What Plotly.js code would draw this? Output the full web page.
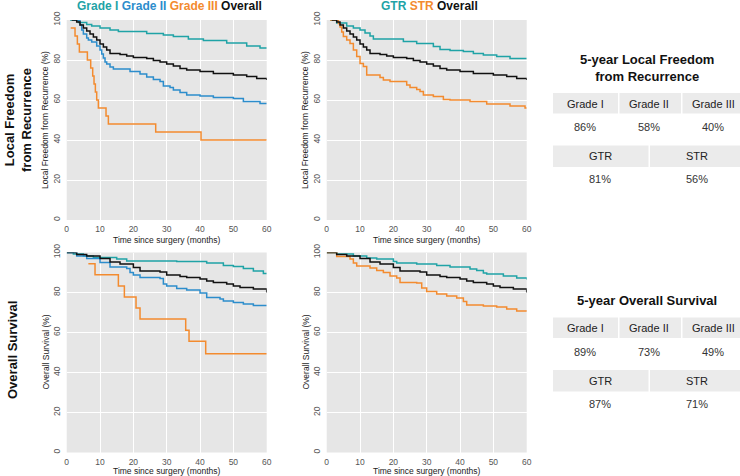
<!DOCTYPE html>
<html>
<head>
<meta charset="utf-8">
<script src="https://cdn.plot.ly/plotly-3.0.1.min.js"></script>
<style>html,body{margin:0;padding:0;background:#fff;}#chart{width:740px;height:476px;}</style>
</head>
<body>
<div id="chart"></div>
<script>
// ---- Data ----
// Local freedom from recurrence, by grade
const lfG1T = [1, 3.5, 6, 7.5, 10, 13, 15.5, 24, 29, 32, 36.5, 41, 48, 54, 58, 60];
const lfG1S = [100, 98.8, 97.8, 97, 96, 95, 94.3, 93.3, 92.5, 91.7, 90.5, 89.7, 88.5, 87, 86, 86];
const lfG2T = [2, 4, 4.5, 5, 6, 6.5, 7.5, 9, 10, 10.5, 11, 11.5, 12, 13, 14, 19, 22, 24, 26, 28, 29, 31, 32, 34, 36, 40, 44, 50, 53, 58, 60];
const lfG2S = [100, 97.5, 95, 93, 91, 90, 89, 87, 85, 83, 81, 79, 78, 76.5, 75.5, 74.2, 73, 71.5, 70.3, 69.2, 67, 66.3, 65, 63.7, 62.5, 62, 61.3, 60.8, 59.2, 58.3, 58.3];
const lfG3T = [1.2, 2.5, 3.2, 3.8, 6.2, 7.2, 7.8, 8.2, 8.6, 9, 9.5, 11.8, 12.5, 26.7, 40.3, 60];
const lfG3S = [96, 92, 88, 84, 80, 76, 72, 68, 64, 60, 56, 52, 48, 44, 40, 40];
const lfAllT = [1.5, 3, 4, 5, 6, 7, 8, 9, 10, 11, 12, 13, 16, 18, 20, 24, 26, 28, 30, 32, 34, 36, 40, 44, 50, 54, 57, 60];
const lfAllS = [100, 99, 97.5, 96, 94.5, 93, 91.5, 90, 88, 86.5, 85, 83.3, 82.8, 82, 81.3, 80.8, 79.7, 79, 78, 77, 75.8, 75, 74.2, 73.3, 72.5, 71.7, 70.8, 70];
// Local freedom from recurrence, by resection
const lfGtrT = [1, 3, 6, 8, 10, 11.5, 13, 14, 23, 27, 32, 34, 37, 41, 44, 47, 51, 55, 60];
const lfGtrS = [100, 98.5, 97, 96, 95, 93.5, 92, 90.5, 89.2, 88.3, 86.7, 85.3, 84.7, 84.2, 83.3, 82.5, 81.7, 80.8, 80.8];
const lfStrT = [1, 3.5, 4, 4.5, 5, 6, 7, 8, 9, 10, 11, 12, 16, 17, 19, 24, 25, 27, 28, 29, 32, 35, 37, 43, 48, 55, 59.5, 60];
const lfStrS = [100, 98.3, 96.5, 94, 91.7, 90, 88.3, 85, 81.7, 78.3, 76.7, 72.5, 71.3, 70, 69.2, 67.5, 66.3, 65.3, 64.2, 62.5, 61.7, 60.3, 60, 59.2, 58, 57, 56, 56];
// Overall survival, by grade
const osG1T = [0, 2, 5, 8, 15, 18, 33, 42, 47, 50, 53, 56, 59, 60];
const osG1S = [100, 99.2, 98.3, 97.5, 96.7, 95.8, 95.5, 94.8, 93.5, 93, 92, 90.8, 89.5, 89.5];
const osG2T = [0, 3, 6, 10, 13, 18, 19, 20, 22, 28, 29, 30, 33, 36, 40, 42, 46, 47, 50, 53, 56, 60];
const osG2S = [100, 98.3, 97, 95, 92.8, 92, 90, 88.7, 87.5, 87, 84.2, 83.3, 82, 81.3, 79.7, 77.5, 76.7, 75.8, 75, 74.2, 73.5, 73.5];
const osG3T = [6.5, 8.5, 15.5, 17.3, 20.8, 22, 35.7, 36.7, 41.7, 60];
const osG3S = [94.4, 88.9, 83.3, 77.8, 72.2, 66.7, 61.1, 55.6, 49.4, 49.4];
const osAllT = [0, 3, 6, 10, 13, 16, 20, 22, 28, 30, 34, 36, 40, 42, 44, 48, 50, 52, 56, 60];
const osAllS = [100, 99, 98.3, 97, 95.3, 94.2, 92.5, 90.8, 90.3, 88.7, 88, 87.5, 86.7, 85.8, 85, 84.2, 83.3, 82.5, 81.7, 80];
// Overall survival, by resection
const osGtrT = [0, 3, 8, 12, 15, 20, 21, 27, 33, 37, 43, 45, 47, 48, 53, 57, 60];
const osGtrS = [100, 99.2, 98.3, 97.2, 96.7, 95.5, 94.7, 94.2, 93.5, 92.7, 91.7, 91, 89.7, 89.2, 88.3, 87.2, 86.5];
const osStrT = [0, 3, 7, 8, 9, 13, 15, 17, 19, 21, 22, 27, 28.5, 30, 33, 36, 39, 41, 42, 47, 51, 54, 57, 60];
const osStrS = [100, 98, 96.7, 94.7, 93.3, 92.2, 91, 90, 88.3, 87.2, 85, 84.7, 82.2, 80.5, 79.3, 78.3, 77.2, 75.5, 73.8, 73.3, 72.7, 71.7, 70.8, 70.5];

// Axis and table text
const xTitle = 'Time since surgery (months)';
const yTitleLF = 'Local Freedom from Recurrence (%)';
const yTitleOS = 'Overall Survival (%)';
const gradeLabels = ['Grade I', 'Grade II', 'Grade III'];
const resectLabels = ['GTR', 'STR'];
const lfGradePct = ['86%', '58%', '40%'];
const lfResectPct = ['81%', '56%'];
const osGradePct = ['89%', '73%', '49%'];
const osResectPct = ['87%', '71%'];

// ---- Styling ----
const C_TEAL = '#1fa3a6', C_BLUE = '#2c8dcc', C_ORANGE = '#f38b2f', C_BLACK = '#111111';
const W = 740, H = 476;
const px = x => x / W;
const py = y => 1 - y / H;
const FONT = 'Liberation Sans, Arial, Helvetica, sans-serif';

function tr(t, s, color, xa, ya) {
  return {x: t, y: s, type: 'scatter', mode: 'lines', line: {shape: 'hv', color: color, width: 1.5},
          xaxis: xa, yaxis: ya, hoverinfo: 'skip', showlegend: false};
}
const data = [
  tr(lfG1T, lfG1S, C_TEAL, 'x', 'y'),
  tr(lfG2T, lfG2S, C_BLUE, 'x', 'y'),
  tr(lfG3T, lfG3S, C_ORANGE, 'x', 'y'),
  tr(lfAllT, lfAllS, C_BLACK, 'x', 'y'),
  tr(lfGtrT, lfGtrS, C_TEAL, 'x2', 'y2'),
  tr(lfStrT, lfStrS, C_ORANGE, 'x2', 'y2'),
  tr(lfAllT, lfAllS, C_BLACK, 'x2', 'y2'),
  tr(osG1T, osG1S, C_TEAL, 'x3', 'y3'),
  tr(osG2T, osG2S, C_BLUE, 'x3', 'y3'),
  tr(osG3T, osG3S, C_ORANGE, 'x3', 'y3'),
  tr(osAllT, osAllS, C_BLACK, 'x3', 'y3'),
  tr(osGtrT, osGtrS, C_TEAL, 'x4', 'y4'),
  tr(osStrT, osStrS, C_ORANGE, 'x4', 'y4'),
  tr(osAllT, osAllS, C_BLACK, 'x4', 'y4')
];

const tickFont = {family: FONT, size: 8.5, color: '#555555'};
function xax(dom, anchor) {
  return {domain: dom, anchor: anchor, range: [0, 60], dtick: 10, tick0: 0,
          showgrid: true, gridcolor: '#ffffff', gridwidth: 1, zeroline: false, showline: false,
          ticks: 'outside', ticklen: 1, tickcolor: 'rgba(0,0,0,0)', tickfont: tickFont, fixedrange: true};
}
function yax(dom, anchor) {
  return {domain: dom, anchor: anchor, range: [0, 100], dtick: 20, tick0: 0,
          showgrid: true, gridcolor: '#ffffff', gridwidth: 1, zeroline: false, showline: false,
          ticks: 'outside', ticklen: 2, tickcolor: 'rgba(0,0,0,0)', tickfont: tickFont, tickangle: -90, fixedrange: true};
}
const xL = [px(66.7), px(266.7)], xR = [px(326.7), px(526.7)];
const yT = [py(220), py(20)], yB = [py(452.5), py(252.5)];

const shapes = [];
const annotations = [];
function cellRect(x0, x1, y0, y1) {
  shapes.push({type: 'rect', xref: 'paper', yref: 'paper', x0: px(x0), x1: px(x1), y0: py(y1), y1: py(y0),
               fillcolor: '#ebebeb', line: {width: 0}, layer: 'below'});
}
function txt(x, y, text, size, color, extra) {
  annotations.push(Object.assign({xref: 'paper', yref: 'paper', x: px(x), y: py(y), text: text,
    showarrow: false, xanchor: 'center', yanchor: 'middle', font: {family: FONT, size: size, color: color}}, extra || {}));
}
function table(top, titleY, title, gradePct, resectPct) {
  txt(646.5, titleY, '<b>' + title + '</b>', 13, '#111');
  const c3 = [[553, 618], [619.5, 681], [682.5, 741]];
  const c2 = [[553, 648.5], [650, 741]];
  const c3x = [585, 648.5, 713];
  const c2x = [600, 697];
  c3.forEach((c, i) => {
    cellRect(c[0], c[1], top, top + 20.5);
    txt(c3x[i], top + 10.5, gradeLabels[i], 11, '#222');
    txt(c3x[i], top + 34, gradePct[i], 11, '#333');
  });
  c2.forEach((c, i) => {
    cellRect(c[0], c[1], top + 52.5, top + 74);
    txt(c2x[i], top + 63, resectLabels[i], 11, '#222');
    txt(c2x[i], top + 86, resectPct[i], 11, '#333');
  });
}
table(93, 68, '5-year Local Freedom<br>from Recurrence', lfGradePct, lfResectPct);
table(317.5, 300.5, '5-year Overall Survival', osGradePct, osResectPct);

// Axis titles
const titleFontSize = 8.5, titleColor = '#222';
[[166.7, 239.5], [426.7, 239.5], [166.7, 471], [426.7, 471]].forEach(p => txt(p[0], p[1], xTitle, titleFontSize, titleColor));
txt(45, 120, yTitleLF, titleFontSize, titleColor, {textangle: -90});
txt(305, 120, yTitleLF, titleFontSize, titleColor, {textangle: -90});
txt(45, 352.5, yTitleOS, titleFontSize, titleColor, {textangle: -90});
txt(305, 352.5, yTitleOS, titleFontSize, titleColor, {textangle: -90});

// Panel legends (coloured titles)
txt(169, 6.5, '<b><span style="color:' + C_TEAL + '">Grade I</span> <span style="color:' + C_BLUE + '">Grade II</span> <span style="color:' + C_ORANGE + '">Grade III</span> <span style="color:' + C_BLACK + '">Overall</span></b>', 12, '#111');
txt(429.5, 6.5, '<b><span style="color:' + C_TEAL + '">GTR</span> <span style="color:' + C_ORANGE + '">STR</span> <span style="color:' + C_BLACK + '">Overall</span></b>', 12, '#111');

// Row labels
txt(18, 120, '<b>Local Freedom<br>from Recurrence</b>', 13, '#111', {textangle: -90});
txt(12, 350, '<b>Overall Survival</b>', 13, '#111', {textangle: -90});

const layout = {
  width: W, height: H,
  margin: {l: 0, r: 0, t: 0, b: 0},
  paper_bgcolor: '#ffffff',
  plot_bgcolor: '#e6e6e6',
  font: {family: FONT},
  showlegend: false,
  xaxis: xax(xL, 'y'), yaxis: yax(yT, 'x'),
  xaxis2: xax(xR, 'y2'), yaxis2: yax(yT, 'x2'),
  xaxis3: xax(xL, 'y3'), yaxis3: yax(yB, 'x3'),
  xaxis4: xax(xR, 'y4'), yaxis4: yax(yB, 'x4'),
  shapes: shapes,
  annotations: annotations
};

Plotly.newPlot('chart', data, layout, {displayModeBar: false, staticPlot: true});
</script>
</body>
</html>
